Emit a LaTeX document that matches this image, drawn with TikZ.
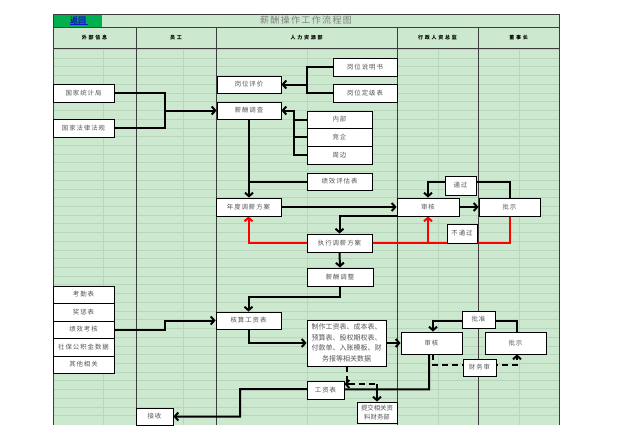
\documentclass[tikz,border=0pt]{standalone}
\usepackage{fontspec}
\setmainfont{Noto Sans CJK SC}
\newfontfamily\boxfont[LetterSpace=15]{Noto Sans CJK SC}
\newfontfamily\headfont[LetterSpace=35]{Noto Sans CJK SC}
\newfontfamily\titlefont[LetterSpace=15]{Noto Sans CJK SC}
\usetikzlibrary{arrows.meta,calc}
\definecolor{bggreen}{RGB}{204,232,207}
\definecolor{gridc}{RGB}{184,214,190}
\definecolor{colline}{RGB}{60,60,60}
\definecolor{btngreen}{RGB}{0,176,80}
\definecolor{linkblue}{RGB}{20,20,200}
\definecolor{boxtext}{RGB}{85,85,85}
\pgfdeclarelayer{bg}
\pgfdeclarelayer{edges}
\pgfsetlayers{bg,edges,main}
\newcommand{\mybox}[6]{\node[box,minimum width={#4-#2},minimum height={#5-#3}] (#1) at ({(#2+#4)/2},{(#3+#5)/2}) {#6};}
\tikzset{
  box/.style={draw=black, line width=0.9pt, fill=white, inner sep=0pt, text=boxtext, align=center, font=\boxfont\fontsize{6.4}{10}\selectfont},
  ln/.style={line width=2pt, draw=black},
  arr/.style={ln, -{Straight Barb[length=3.5pt,width=8pt]}},
  rln/.style={line width=2pt, draw=red},
  rarr/.style={rln, -{Straight Barb[length=3.5pt,width=8pt]}},
  dln/.style={ln, dash pattern=on 6pt off 4pt},
  darr/.style={dln, -{Straight Barb[length=3.5pt,width=8pt]}},
  head/.style={font=\headfont\bfseries\fontsize{5}{5.5}\selectfont, text=black, inner sep=0pt}
}
\begin{document}
\begin{tikzpicture}[x=1pt,y=-1pt]
\useasboundingbox (0,0) rectangle (640,447);
\begin{pgfonlayer}{bg}
\fill[white] (0,0) rectangle (640,447);
\fill[bggreen] (53,14) rectangle (559,425);
\foreach \k in {0,...,42} \draw[gridc, line width=0.5pt] (53,{49.3+8.72*\k}) -- (559,{49.3+8.72*\k});
\foreach \xx in {103,183,307,438,519} \draw[gridc, line width=0.5pt] (\xx,49) -- (\xx,425);
\fill[btngreen] (53,14) rectangle (102,27);
\draw[colline, line width=0.9pt] (53,14) -- (559,14);
\draw[colline, line width=0.9pt] (53,27) -- (559,27);
\draw[colline, line width=1.3pt] (53,48.5) -- (559,48.5);
\draw[colline, line width=0.9pt] (53,14) -- (53,425);
\draw[colline, line width=0.9pt] (559,14) -- (559,425);
\foreach \xx in {136,216,397,478} \draw[colline, line width=0.9pt] (\xx,27) -- (\xx,425);
\end{pgfonlayer}
% header texts
\node[font=\bfseries\fontsize{8}{9}\selectfont, text=linkblue, inner sep=0pt] (back) at (78,20.5) {返回};
\draw[linkblue, line width=0.6pt] (back.south west) ++(0,-0.3) -- ++(18,0);
\node[font=\titlefont\fontsize{9}{10}\selectfont, text=gray, inner sep=0pt] (title) at (306,20.5) {薪酬操作工作流程图};
\node[head] (h1) at (94.5,38) {外部信息};
\node[head] (h2) at (176,38) {员工};
\node[head] (h3) at (306.5,38) {人力资源部};
\node[head] (h4) at (437.5,38) {行政人资总监};
\node[head] (h5) at (518.5,38) {董事长};
% boxes
\mybox{gjtjj}{53}{84}{114}{102}{国家统计局}
\mybox{gjfl}{53}{119}{114}{137}{国家法律法规}
\mybox{gwpj}{217}{76}{281}{93}{岗位评价}
\mybox{xcdc}{217}{102}{281}{119}{薪酬调查}
\mybox{gwsms}{333}{58}{397}{76}{岗位说明书}
\mybox{gwdjb}{333}{84}{397}{102}{岗位定级表}
\mybox{nb}{307}{111}{372}{128}{内部}
\mybox{jq}{307}{128}{372}{146}{竞企}
\mybox{zb}{307}{146}{372}{164}{周边}
\mybox{jxpgb}{307}{173}{372}{190}{绩效评估表}
\mybox{ndtx}{216}{198}{281}{216}{年度调薪方案}
\mybox{shA}{397}{198}{459}{216}{审核}
\mybox{psA}{479}{198}{540}{216}{批示}
\mybox{tg}{445}{176}{476}{195}{通过}
\mybox{btg}{447}{224}{477}{243}{不通过}
\mybox{zxtx}{307}{234}{372}{252}{执行调薪方案}
\mybox{xctz}{307}{268}{373}{286}{薪酬调整}
\mybox{kqb}{53}{286}{114}{303}{考勤表}
\mybox{jcb}{53}{303}{114}{321}{奖惩表}
\mybox{jxkh}{53}{321}{114}{338}{绩效考核}
\mybox{sbgjj}{53}{338}{114}{356}{社保公积金数据}
\mybox{qtxg}{53}{356}{114}{373}{其他相关}
\mybox{hsgzb}{216}{312}{281}{329}{核算工资表}
\node[box, minimum width=79, minimum height=46, font=\fontsize{7}{10.5}\selectfont] (zzgzb) at (346.5,343) {制作工资表、成本表、\\预算表、股权期权表、\\付款单、入账模板、财\\务报等相关数据};
\mybox{shB}{401}{332}{462}{354}{审核}
\mybox{psB}{485}{332}{546}{354}{批示}
\mybox{pz}{462}{311}{495}{328}{批准}
\mybox{cws}{463}{359}{496}{376}{财务审}
\mybox{gzb}{307}{381}{344}{399}{工资表}
\node[box, minimum width=40, minimum height=21, font=\fontsize{6.4}{8.5}\selectfont] (tj) at (377,412.5) {提交相关资\\料财务部};
\mybox{js}{136}{408}{173}{425}{接收}
% connectors
\begin{pgfonlayer}{edges}
\draw[ln] (gjtjj.east) -- (165,93) -- (165,128) -- (gjfl.east);
\draw[arr] (165,110.5) -- (xcdc.west);
\draw[ln] (gwsms.west) -- (307,67) -- (307,93) -- (gwdjb.west);
\draw[arr] (307,84.5) -- (gwpj.east);
\draw[ln] (nb.west) -- (294,119.5);
\draw[ln] (jq.west) -- (294,137);
\draw[arr] (zb.west) -- (294,155) -- (294,110.5) -- (xcdc.east);
\draw[arr] (xcdc.south) -- (xcdc.south |- ndtx.north);
\draw[ln] (jxpgb.west) -- (jxpgb.west -| xcdc.south);
\draw[arr] (ndtx.east) -- (shA.west);
\draw[arr] (shA.south west) -- (shA.south west -| zxtx.north) -- (zxtx.north);
\draw[arr] (shA.east) -- (psA.west);
\draw[arr] (psA.north) -- ++(0,-16) -| (shA.north);
\draw[rarr] (zxtx.west) -- (zxtx.west -| ndtx.south) -- (ndtx.south);
\draw[rln] (zxtx.east) -| (psA.south);
\draw[rarr] (zxtx.east -| shA.south) -- (shA.south);
\draw[arr] (zxtx.south) -- (xctz.north);
\draw[arr] (xctz.south) -- ++(0,11) -| (hsgzb.north);
\draw[arr] (jxkh.east) -- (165,329.5) -- (165,320.5) -- (hsgzb.west);
\draw[arr] (hsgzb.south) |- (zzgzb.west);
\draw[arr] (zzgzb.east) -- (shB.west);
\draw[arr] (psB.north) ++(1.5,0) -- ++(0,-11) -| ($(shB.north)+(1.5,0)$);
\draw[darr] ($(shB.south)+(1.5,0)$) -- ++(0,11) -| ($(psB.south)+(1.5,0)$);
\draw[arr] ($(shB.south)+(-2.5,0)$) -- ++(0,35) -- (240,389) -- (240,416.5) -- (js.east);
\draw[dln] ($(zzgzb.south)+(0,0)$) -- (346.5,384) -- (377,384);
\draw[arr] (377,384) -- (tj.north);
\draw[arr] (351,384) -- (gzb.east |- 0,384);
\end{pgfonlayer}
\end{tikzpicture}
\end{document}
